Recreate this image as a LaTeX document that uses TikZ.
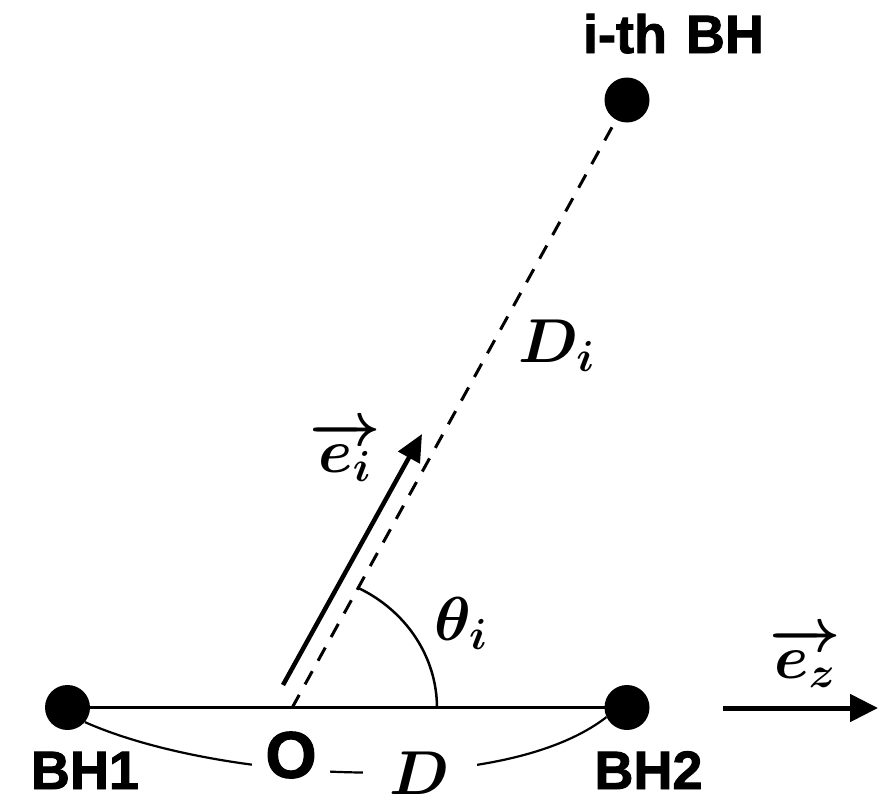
\RequirePackage{fix-cm}
\documentclass[tikz,border=0pt]{standalone}
\usepackage{fontspec}
\newfontfamily\lblfont{Liberation Sans Bold}[FakeBold=1.6]
\usetikzlibrary{arrows.meta}
\tikzset{
  dot/.style={circle, fill=black, draw=none, minimum size=45pt, inner sep=0pt},
  bhlabel/.style={font=\lblfont\fontsize{54}{60}\selectfont, inner sep=0pt, anchor=base},
  mathlabel/.style={font=\fontsize{62}{70}\selectfont\boldmath, inner sep=0pt, anchor=base west},
  baseline line/.style={line width=2.5pt},
  dashline/.style={line width=3pt, dash pattern=on 15pt off 12pt},
  anglearc/.style={line width=2.5pt},
  braceline/.style={line width=2.2pt},
  unitvec/.style={line width=4.5pt, -{Triangle[length=27pt,width=24pt]}},
  axisvec/.style={line width=5pt, -{Triangle[length=28pt,width=27pt]}}
}
\begin{document}
\begin{tikzpicture}[x=1pt,y=-1pt]
\useasboundingbox (0,0) rectangle (894,795);
% black holes
\node[dot] (bh1) at (67.5,707.5) {};
\node[dot] (bh2) at (627,707.5) {};
\node[dot] (bhi) at (627,100) {};
\coordinate (O) at (292,708);
% baseline
\draw[baseline line] (bh1.center) -- (bh2.center);
% dashed line to i-th BH
\draw[dashline] (O) -- (bhi);
% unit vector e_i
\coordinate (a0) at (283,685);
\coordinate (a1) at (422,434);
\draw[unitvec] (a0) -- (a1);
% angle arc
\coordinate (arcstart) at (437,708);
\draw[anglearc] (arcstart) arc[start angle=0, end angle=-63, x radius=145, y radius=135];
% distance curve
\draw[braceline] (bh1.-40) .. controls (215,780) and (500,800) .. (bh2.205);
% e_z arrow
\coordinate (z0) at (723,708);
\coordinate (z1) at (878,708);
\draw[axisvec] (z0) -- (z1);
% labels
\node[bhlabel] (lbhi) at (673.5,53) {i-th\hspace{4pt} BH};
\node[bhlabel] (lbh1) at (85,789) {BH1};
\node[bhlabel] (lbh2) at (648.5,789) {BH2};
\node[font=\lblfont\fontsize{66}{72}\selectfont, fill=white, inner xsep=13pt, inner ysep=2pt] (lo) at (291,755) {O};
\node[font=\fontsize{62}{70}\selectfont\boldmath, fill=white, inner xsep=27pt, inner ysep=2pt, anchor=base] (ld) at (420,794) {$D$};
\node[mathlabel] (ldi) at (518,362) {$D_i$};
\node[mathlabel] (lth) at (434,640) {$\theta_i$};
\node[mathlabel] (lei) at (309,472) {$\overrightarrow{e_i}$};
\node[mathlabel] (lez) at (769,678) {$\overrightarrow{e_z}$};
\end{tikzpicture}
\end{document}
